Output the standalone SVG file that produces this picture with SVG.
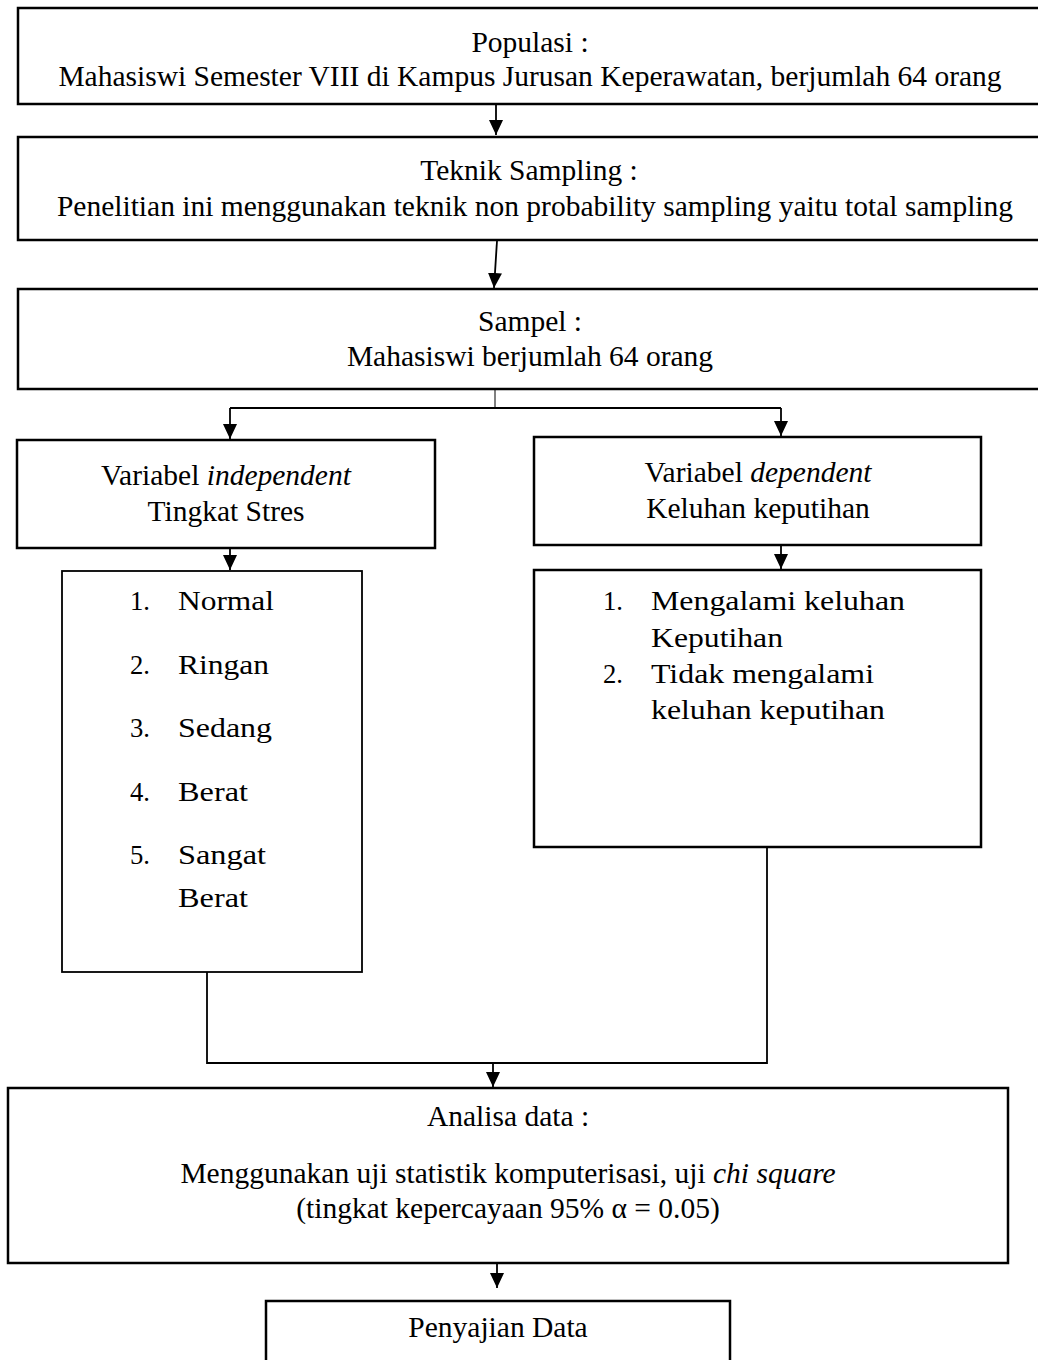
<svg xmlns="http://www.w3.org/2000/svg" width="1038" height="1360" viewBox="0 0 1038 1360">
<defs>
<style>
.box{fill:#fff;stroke:#000;stroke-width:2.5}
.thin{fill:#fff;stroke:#000;stroke-width:1.8}
.t{font-family:"Liberation Serif","Times New Roman",serif;font-size:29.5px;fill:#000}
.c{text-anchor:middle}
.l{font-family:"Liberation Serif","Times New Roman",serif;font-size:28px;fill:#000}
.con{fill:none;stroke:#000;stroke-width:1.8}
</style>
<marker id="ah" markerUnits="userSpaceOnUse" markerWidth="15" markerHeight="14" viewBox="0 0 15 14" refX="15" refY="7" orient="auto">
<path d="M0 0 L15 7 L0 14 Z" fill="#000"/>
</marker>
</defs>
<rect width="1038" height="1360" fill="#fff"/>
<g id="connectors">
<path class="con" d="M496 105 V135" marker-end="url(#ah)"/>
<path class="con" d="M497 241 L494 288" marker-end="url(#ah)"/>
<path d="M495 384 V408" stroke="#000" stroke-width="1" fill="none"/>
<path class="con" d="M230 408 H781"/>
<path class="con" d="M230 408 V439" marker-end="url(#ah)"/>
<path class="con" d="M781 408 V436" marker-end="url(#ah)"/>
<path class="con" d="M230 540 V570" marker-end="url(#ah)"/>
<path class="con" d="M781 538 V569" marker-end="url(#ah)"/>
<path class="con" d="M207 972 V1063 H767 V847"/>
<path class="con" d="M493 1063 V1087" marker-end="url(#ah)"/>
<path class="con" d="M497 1264 V1288" marker-end="url(#ah)"/>
</g>
<g id="populasi">
<rect class="box" x="18" y="8" width="1030" height="96"/>
<text class="t c" x="530" y="52">Populasi :</text>
<text class="t c" x="530" y="86">Mahasiswi Semester VIII di Kampus Jurusan Keperawatan, berjumlah 64 orang</text>
</g>
<g id="teknik">
<rect class="box" x="18" y="137" width="1030" height="103"/>
<text class="t c" x="529" y="180">Teknik Sampling :</text>
<text class="t c" x="535" y="216">Penelitian ini menggunakan teknik non probability sampling yaitu total sampling</text>
</g>
<g id="sampel">
<rect class="box" x="18" y="289" width="1030" height="100"/>
<text class="t c" x="530" y="331">Sampel :</text>
<text class="t c" x="530" y="366">Mahasiswi berjumlah 64 orang</text>
</g>
<g id="independent">
<rect class="box" x="17" y="440" width="418" height="108"/>
<text class="t c" x="226" y="485">Variabel <tspan font-style="italic">independent</tspan></text>
<text class="t c" x="226" y="521">Tingkat Stres</text>
</g>
<g id="dependent">
<rect class="box" x="534" y="437" width="447" height="108"/>
<text class="t c" x="758" y="482">Variabel <tspan font-style="italic">dependent</tspan></text>
<text class="t c" x="758" y="518">Keluhan keputihan</text>
</g>
<g id="list-stres">
<rect class="thin" x="62" y="571" width="300" height="401"/>
<text class="l" x="130" y="610" textLength="20" lengthAdjust="spacingAndGlyphs">1.</text><text class="l" x="178" y="610" textLength="96" lengthAdjust="spacingAndGlyphs">Normal</text>
<text class="l" x="130" y="674" textLength="20" lengthAdjust="spacingAndGlyphs">2.</text><text class="l" x="178" y="674" textLength="91" lengthAdjust="spacingAndGlyphs">Ringan</text>
<text class="l" x="130" y="737" textLength="20" lengthAdjust="spacingAndGlyphs">3.</text><text class="l" x="178" y="737" textLength="94" lengthAdjust="spacingAndGlyphs">Sedang</text>
<text class="l" x="130" y="801" textLength="20" lengthAdjust="spacingAndGlyphs">4.</text><text class="l" x="178" y="801" textLength="70" lengthAdjust="spacingAndGlyphs">Berat</text>
<text class="l" x="130" y="864" textLength="20" lengthAdjust="spacingAndGlyphs">5.</text><text class="l" x="178" y="864" textLength="88" lengthAdjust="spacingAndGlyphs">Sangat</text>
<text class="l" x="178" y="907" textLength="70" lengthAdjust="spacingAndGlyphs">Berat</text>
</g>
<g id="list-keputihan">
<rect class="box" x="534" y="570" width="447" height="277"/>
<text class="l" x="603" y="610" textLength="20" lengthAdjust="spacingAndGlyphs">1.</text><text class="l" x="651" y="610" textLength="254" lengthAdjust="spacingAndGlyphs">Mengalami keluhan</text>
<text class="l" x="651" y="647" textLength="132" lengthAdjust="spacingAndGlyphs">Keputihan</text>
<text class="l" x="603" y="683" textLength="20" lengthAdjust="spacingAndGlyphs">2.</text><text class="l" x="651" y="683" textLength="223" lengthAdjust="spacingAndGlyphs">Tidak mengalami</text>
<text class="l" x="651" y="719" textLength="234" lengthAdjust="spacingAndGlyphs">keluhan keputihan</text>
</g>
<g id="analisa">
<rect class="box" x="8" y="1088" width="1000" height="175"/>
<text class="t c" x="508" y="1126">Analisa data :</text>
<text class="t c" x="508" y="1183">Menggunakan uji statistik komputerisasi, uji <tspan font-style="italic">chi square</tspan></text>
<text class="t c" x="508" y="1218">(tingkat kepercayaan 95% α = 0.05)</text>
</g>
<g id="penyajian">
<rect class="box" x="266" y="1301" width="464" height="80"/>
<text class="t c" x="498" y="1337">Penyajian Data</text>
</g>
</svg>
